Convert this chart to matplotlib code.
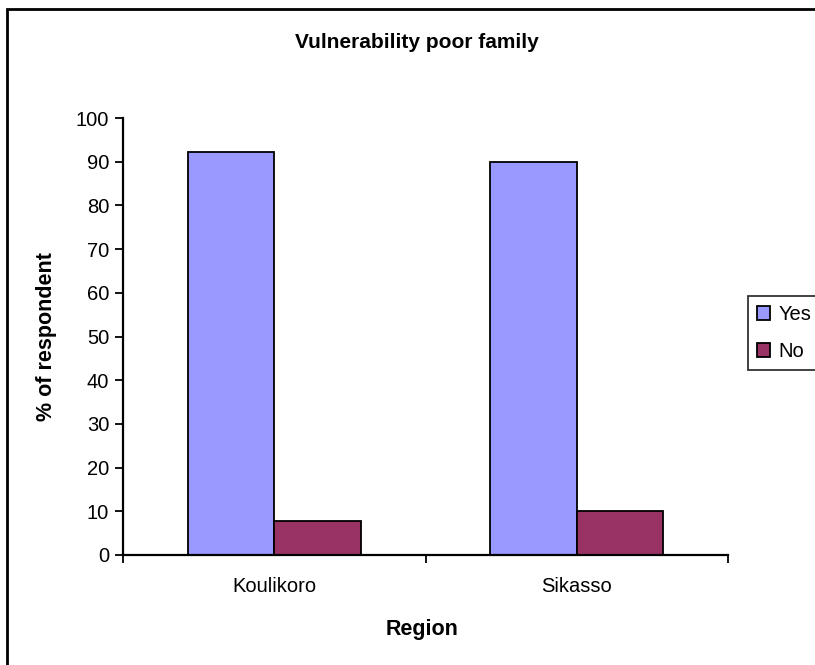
import matplotlib.pyplot as plt
import numpy as np
from matplotlib.patches import Rectangle

regions = ['Koulikoro', 'Sikasso']
yes_pct = [92.3, 90.0]
no_pct = [7.7, 10.0]

plt.rcParams['font.family'] = 'Liberation Sans'

fig = plt.figure(figsize=(8.15, 6.65), dpi=100)
ax = fig.add_axes([123 / 815, 1 - 555 / 665, (728 - 123) / 815, (555 - 118) / 665])

x = np.arange(len(regions))
w = 1 / 3.5
ax.bar(x - w / 2, yes_pct, w, color='#9999ff', edgecolor='black', linewidth=1.3, label='Yes')
ax.bar(x + w / 2, no_pct, w, color='#993366', edgecolor='black', linewidth=1.3, label='No')

ax.set_xlim(-0.5, len(regions) - 0.5)
ax.set_ylim(0, 100)
ax.set_yticks(range(0, 101, 10))
ax.tick_params(axis='y', direction='out', length=6, width=1.3, labelsize=14.5, pad=4)

# category boundaries carry the tick marks, centres carry the names
ax.set_xticks(np.arange(-0.5, len(regions), 1))
ax.set_xticklabels([])
ax.tick_params(axis='x', which='major', direction='out', length=6, width=1.3)
ax.set_xticks(x, minor=True)
ax.set_xticklabels(regions, minor=True)
ax.tick_params(axis='x', which='minor', length=0, labelsize=14.5, pad=16)

for side in ['top', 'right']:
    ax.spines[side].set_visible(False)
for side in ['left', 'bottom']:
    ax.spines[side].set_linewidth(1.6)

ax.set_ylabel('% of respondent', fontsize=15.5, fontweight='bold')
ax.yaxis.label.set_va('center')
ax.yaxis.set_label_coords((47 - 123) / 605, 0.5)
ax.set_xlabel('Region', fontsize=15.5, fontweight='bold')
ax.xaxis.label.set_va('center')
ax.xaxis.set_label_coords((422 - 123) / 605, -(629 - 555) / 437)

fig.text(417 / 815, 1 - 48 / 665, 'Vulnerability poor family', ha='center', va='baseline',
         fontsize=15, fontweight='bold')

leg = fig.legend(loc='upper left', bbox_to_anchor=(748 / 815, 1 - 296 / 665), fontsize=14.5,
                 frameon=True, fancybox=False, edgecolor='black', borderaxespad=0,
                 handlelength=0.65, handleheight=0.65, handletextpad=0.4, borderpad=0.45,
                 labelspacing=0.89)
leg.get_frame().set_linewidth(1.3)
for h in leg.legend_handles:
    h.set_edgecolor('black')
    h.set_linewidth(1.3)

# chart area outline
fig.patches.append(Rectangle((7 / 815, -0.1), 1.2, 1 - 9 / 665 + 0.1, transform=fig.transFigure,
                             fill=False, edgecolor='black', linewidth=2))

fig.savefig('out.png', dpi=100, facecolor='white')
